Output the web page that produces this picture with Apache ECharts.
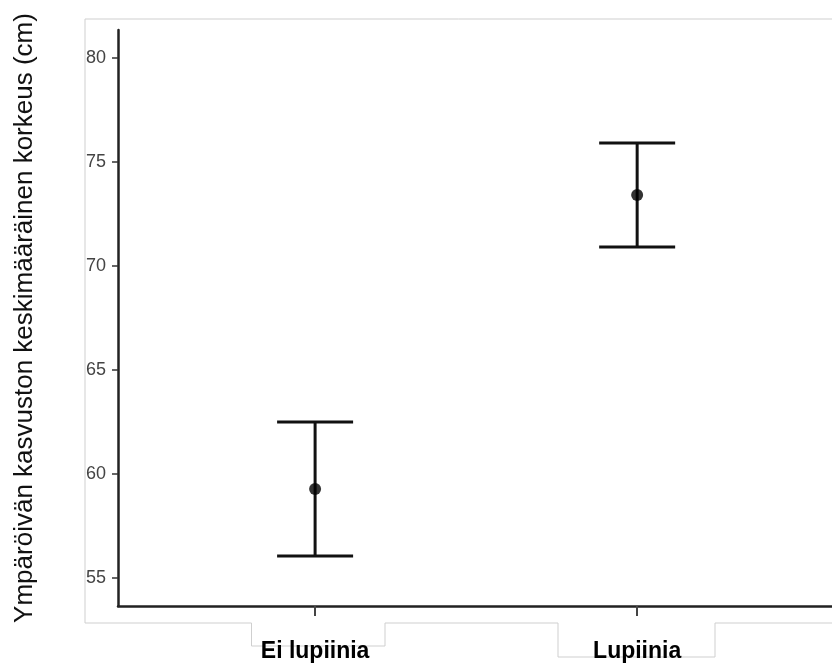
<!DOCTYPE html>
<html><head><meta charset="utf-8">
<script src="https://cdn.jsdelivr.net/npm/echarts@6/dist/echarts.min.js"></script>
<style>html,body{margin:0;padding:0;background:#fff}#c{width:832px;height:668px}</style>
</head><body><div id="c"></div>
<script>
const categories = ['Ei lupiinia', 'Lupiinia'];
const means = [59.28, 73.41];
const lower = [56.06, 70.91];
const upper = [62.5, 75.91];
const yTicks = [55, 60, 65, 70, 75, 80];
const yTitle = 'Ympäröivän kasvuston keskimääräinen korkeus (cm)';

const chart = echarts.init(document.getElementById('c'));
const errData = categories.map((c, i) => [i, lower[i], upper[i]]);
const ptData = categories.map((c, i) => [i, means[i]]);

chart.setOption({
  animation: false,
  backgroundColor: '#fff',
  grid: {left: 118, right: 0, top: 30, bottom: 62},
  xAxis: {
    type: 'value', min: -0.612, max: 1.605,
    splitLine: {show: false},
    axisLine: {show: true, onZero: false, lineStyle: {color: '#222', width: 2.5}},
    axisTick: {show: true, customValues: [0, 1], length: 10, lineStyle: {color: '#444', width: 2}},
    axisLabel: {show: true, customValues: [0, 1], margin: 34,
      formatter: v => categories[Math.round(v)] || '',
      fontFamily: 'Liberation Sans, Arial', fontWeight: 'bold', fontSize: 23, color: '#000'}
  },
  yAxis: {
    type: 'value', min: 53.65, max: 81.35,
    splitLine: {show: false},
    axisLine: {show: true, onZero: false, lineStyle: {color: '#222', width: 2.5}},
    axisTick: {show: true, customValues: yTicks, length: 6, lineStyle: {color: '#333', width: 1.5}},
    axisLabel: {show: true, customValues: yTicks, margin: 12,
      fontFamily: 'Liberation Sans, Arial', fontSize: 18, color: '#444'},
    name: yTitle, nameLocation: 'middle', nameGap: 80, nameRotate: 90,
    nameTextStyle: {fontFamily: 'Liberation Sans, Arial', fontSize: 26, color: '#111'}
  },
  graphic: [{
    type: 'polyline', silent: true, z: -1,
    shape: {points: [[832, 19], [85, 19], [85, 623], [251.5, 623], [251.5, 646], [385, 646], [385, 623],
      [558, 623], [558, 657], [715, 657], [715, 623], [832, 623]]},
    style: {stroke: '#cfcfcf', lineWidth: 1, fill: null}
  }],
  series: [{
    type: 'custom',
    data: errData,
    renderItem: function (params, api) {
      const x = api.value(0);
      const lo = api.coord([x, api.value(1)]);
      const hi = api.coord([x, api.value(2)]);
      const hw = 38;
      const st = {stroke: '#111', lineWidth: 3};
      return {type: 'group', children: [
        {type: 'line', shape: {x1: lo[0], y1: lo[1], x2: hi[0], y2: hi[1]}, style: st},
        {type: 'line', shape: {x1: lo[0] - hw, y1: lo[1], x2: lo[0] + hw, y2: lo[1]}, style: st},
        {type: 'line', shape: {x1: hi[0] - hw, y1: hi[1], x2: hi[0] + hw, y2: hi[1]}, style: st}
      ]};
    }
  }, {
    type: 'scatter', data: ptData, symbol: 'circle', symbolSize: 12,
    itemStyle: {color: '#000'}, z: 5
  }]
});
</script></body></html>
